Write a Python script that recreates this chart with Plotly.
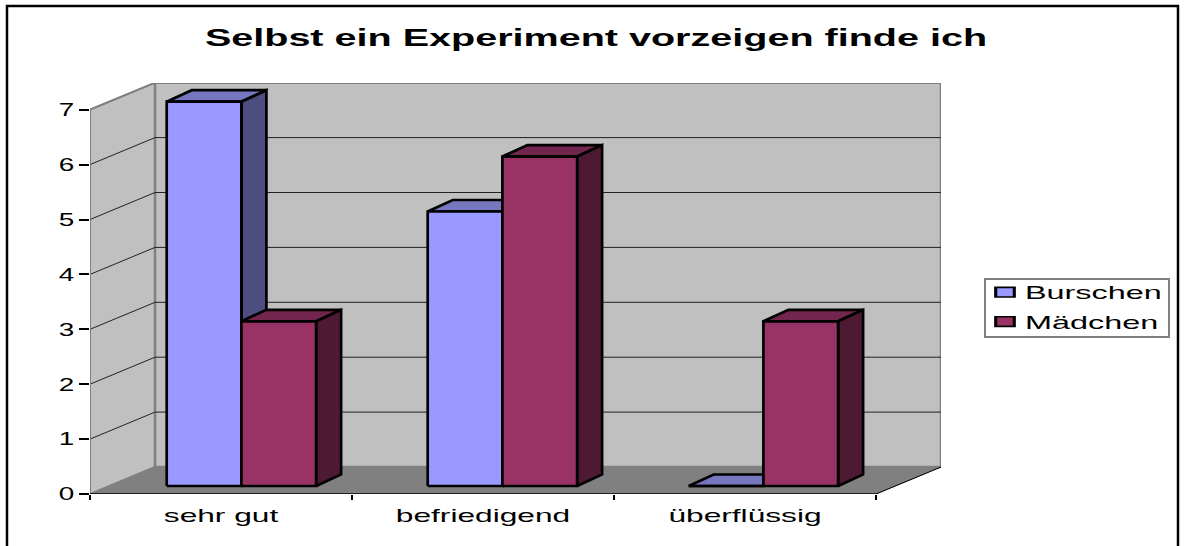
import plotly.graph_objects as go

TITLE = "Selbst ein Experiment vorzeigen finde ich"
categories = ["sehr gut", "befriedigend", "überflüssig"]
burschen = [7, 5, 0]
maedchen = [3, 6, 3]
y_ticks = [0, 1, 2, 3, 4, 5, 6, 7]

# drawing geometry, in axis units
PX_X, PX_Y = 262.0, 54.9
L, T, R, B = 90, 83, 941, 494
X0, X1 = -0.5, 2.5
WALL_DX, WALL_DY = 65 / PX_X, 27 / PX_Y
BAR_W = 74.7 / PX_X
BAR_X0 = (166.7 - L) / PX_X - 0.5
BAR_STEP = 261 / PX_X
BAR_BASE = 8 / PX_Y
BAR_DX, BAR_DY = 25 / PX_X, 11.5 / PX_Y
Y_TOP = 7

fig = go.Figure()


def poly(xs, ys, fill, line="black", width=2.7):
    fig.add_trace(go.Scatter(
        x=list(xs) + [xs[0]], y=list(ys) + [ys[0]], mode="lines", fill="toself",
        fillcolor=fill, line=dict(color=line, width=width), hoverinfo="skip", showlegend=False))


def seg(xs, ys, color, width):
    fig.add_trace(go.Scatter(x=xs, y=ys, mode="lines", line=dict(color=color, width=width),
                             hoverinfo="skip", showlegend=False))


# walls and floor
poly([X0, X0, X0 + WALL_DX, X0 + WALL_DX], [0, Y_TOP, Y_TOP + WALL_DY, WALL_DY], "#C0C0C0", "#808080", 2)
poly([X0 + WALL_DX, X1 + WALL_DX, X1 + WALL_DX, X0 + WALL_DX],
     [WALL_DY, WALL_DY, Y_TOP + WALL_DY, Y_TOP + WALL_DY], "#C0C0C0", "#808080", 2.5)
poly([X0, X1, X1 + WALL_DX, X0 + WALL_DX], [0, 0, WALL_DY, WALL_DY], "#808080", "#808080", 1)
for t in y_ticks[1:-1]:
    seg([X0, X0 + WALL_DX, X1 + WALL_DX], [t, t + WALL_DY, t + WALL_DY], "#222222", 1)
seg([X0, X0 + WALL_DX], [Y_TOP, Y_TOP + WALL_DY], "#808080", 1.5)
seg([X0, X0], [0, Y_TOP], "#808080", 1.5)
seg([X0, X1], [0, 0], "black", 1.5)
seg([X1, X1 + WALL_DX], [0, WALL_DY], "black", 1)


def bar(i, k, value, front, top, side):
    x0 = i * BAR_STEP + BAR_X0 + k * BAR_W
    x1 = x0 + BAR_W
    y0 = BAR_BASE
    y1 = BAR_BASE + value
    poly([x0, x1, x1 + BAR_DX, x0 + BAR_DX], [y1, y1, y1 + BAR_DY, y1 + BAR_DY], top)
    poly([x1, x1 + BAR_DX, x1 + BAR_DX, x1], [y0, y0 + BAR_DY, y1 + BAR_DY, y1], side)
    poly([x0, x1, x1, x0], [y0, y0, y1, y1], front)


for i, (b, m) in enumerate(zip(burschen, maedchen)):
    bar(i, 0, b, "#9999FF", "#7777BF", "#4D4D80")
    bar(i, 1, m, "#993366", "#73264D", "#4D1933")

# legend entries
for name, color in [("Burschen", "#9999FF"), ("Mädchen", "#993366")]:
    fig.add_trace(go.Bar(x=[None], y=[None], name=name, marker=dict(color=color, line=dict(color="black", width=2))))

FONT = "Liberation Sans"
fig.update_layout(
    width=1184, height=546, autosize=False,
    margin=dict(l=L, r=1184 - R, t=T, b=546 - B, pad=0),
    paper_bgcolor="white", plot_bgcolor="white",
    font=dict(family=FONT, size=18, color="black"),
    title=dict(text=TITLE, font=dict(family=FONT, size=24, color="black", weight="bold"),
               x=596 / 1184, xanchor="center", y=1 - 38 / 546, yanchor="middle", xref="container", yref="container"),
    xaxis=dict(range=[X0, X0 + (R - L) / PX_X], tickmode="array", tickvals=[0, 1, 2], ticktext=categories,
               ticks="", showgrid=False, zeroline=False, showline=False, ticklabelstandoff=9,
               minor=dict(tickmode="array", tickvals=[-0.5, 0.5, 1.5, 2.5], ticks="outside", ticklen=5,
                          tickcolor="black", tickwidth=1.5, showgrid=False)),
    yaxis=dict(range=[0, (B - T) / PX_Y], tickmode="array", tickvals=y_ticks, ticks="outside", ticklen=10,
               tickcolor="black", tickwidth=1.5, showgrid=False, zeroline=False, showline=False,
               ticklabelstandoff=1),
    legend=dict(x=(985 - L) / (R - L), y=(B - 272) / (B - T), xanchor="left", yanchor="top",
                bgcolor="rgba(0,0,0,0)", borderwidth=0, font=dict(size=18, family=FONT)),
    shapes=[dict(type="path", xref="paper", yref="paper",
                 path=f"M{(7 - L) / (R - L)},{(B - 560) / (B - T)} L{(7 - L) / (R - L)},{(B - 6) / (B - T)} "
                      f"L{(1178 - L) / (R - L)},{(B - 6) / (B - T)} L{(1178 - L) / (R - L)},{(B - 560) / (B - T)}",
                 line=dict(color="black", width=2.5), layer="above")],
)

POST = """
document.body.style.margin = '0';
function stretch(sel, anchor, k, ky) {
  document.querySelectorAll(sel).forEach(function (t) {
    var b = t.getBBox();
    var a = anchor === 'l' ? b.x : anchor === 'r' ? b.x + b.width : b.x + b.width / 2;
    var c = b.y + b.height / 2;
    var old = t.getAttribute('transform') || '';
    t.setAttribute('transform', old + ' translate(' + a + ',' + c + ') scale(' + k + ',' + (ky || 1) + ') translate(' + (-a) + ',' + (-c) + ')');
  });
}
stretch('.xtick text', 'c', 1.76);
stretch('.ytick text', 'r', 1.55);
stretch('.legendtext', 'l', 1.8);
stretch('.legendpoints path', 'c', 1.55, 0.8);
stretch('.gtitle', 'c', 1.648);
var lg = document.querySelector('.legend');
var sb = lg.querySelector('.scrollbox');
if (sb) sb.removeAttribute('clip-path');
var tr = lg.querySelectorAll('.traces');
tr.forEach(function (t, i) {
  t.setAttribute('transform', t.getAttribute('transform') + ' translate(0,' + (2 + i * 3) + ')');
});
var bg = lg.querySelector('.bg');
bg.setAttribute('x', 0); bg.setAttribute('y', 7); bg.setAttribute('width', 184); bg.setAttribute('height', 58);
bg.style.stroke = '#808080'; bg.style.strokeWidth = '1.5px'; bg.style.fill = 'white';
"""
fig.write_html("out.html", post_script=POST, config=dict(displayModeBar=False))
